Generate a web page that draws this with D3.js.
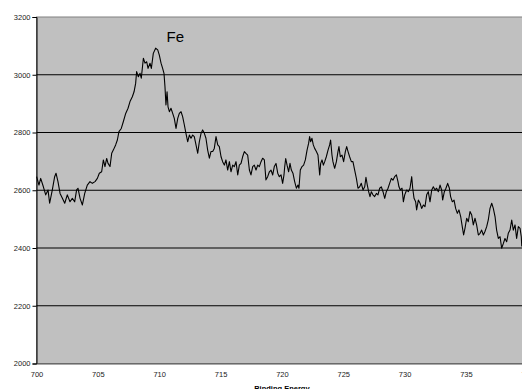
<!DOCTYPE html>
<html>
<head>
<meta charset="utf-8">
<script src="https://cdn.jsdelivr.net/npm/d3@7"></script>
<style>
  html, body { margin: 0; padding: 0; background: #fff; overflow: hidden; }
  svg { display: block; }
  text { font-family: "Liberation Sans", Arial, sans-serif; }
</style>
</head>
<body>
<svg id="chart" width="522" height="389"></svg>
<script>
// ---- data ----
const energy = [
  700.01,700.20,700.34,700.56,700.75,700.94,701.07,701.29,701.48,701.59,701.75,701.92,702.11,702.30,702.51,702.73,702.92,703.11,703.27,703.38,
  703.55,703.74,703.93,704.14,704.36,704.55,704.77,704.96,705.12,705.31,705.45,705.58,705.72,705.83,705.99,706.13,706.26,706.45,706.59,706.72,
  706.91,707.08,707.27,707.46,707.62,707.81,707.95,708.08,708.16,708.30,708.44,708.54,708.71,708.84,708.98,709.09,709.25,709.36,709.52,709.71,
  709.88,710.01,710.15,710.28,710.39,710.47,710.55,710.64,710.72,710.83,710.96,711.10,711.23,711.37,711.51,711.64,711.78,711.91,712.05,712.18,
  712.32,712.46,712.59,712.73,712.86,713.00,713.14,713.27,713.41,713.54,713.68,713.81,713.95,714.09,714.22,714.36,714.49,714.63,714.77,714.90,
  715.04,715.17,715.31,715.44,715.58,715.72,715.85,715.99,716.12,716.26,716.40,716.53,716.67,716.80,716.94,717.07,717.21,717.35,717.48,717.62,
  717.75,717.89,718.03,718.16,718.30,718.43,718.57,718.70,718.84,718.98,719.11,719.25,719.38,719.52,719.66,719.79,719.93,720.06,720.17,
  720.23,720.31,720.42,720.55,720.66,720.77,720.90,721.04,721.18,721.31,721.39,721.50,721.64,721.77,721.91,722.05,722.18,722.26,722.34,722.45,
  722.56,722.67,722.81,722.94,723.08,723.16,723.27,723.38,723.49,723.62,723.76,723.89,723.97,724.08,724.16,724.30,724.44,724.57,724.65,724.76,
  724.90,725.03,725.17,725.28,725.39,725.52,725.66,725.79,725.93,726.07,726.20,726.34,726.47,726.61,726.75,726.85,726.96,727.07,727.18,727.29,
  727.42,727.56,727.70,727.83,727.97,728.10,728.24,728.38,728.51,728.65,728.78,728.92,729.05,729.19,729.33,729.46,729.54,729.65,729.79,729.90,
  730.01,730.11,730.17,730.30,730.44,730.58,730.66,730.77,730.90,730.98,731.12,731.26,731.39,731.53,731.66,731.80,731.93,732.07,732.21,732.34,
  732.48,732.61,732.75,732.89,733.02,733.10,733.24,733.37,733.51,733.65,733.75,733.89,734.03,734.16,734.30,734.43,734.57,734.70,734.81,734.92,
  735.06,735.19,735.33,735.47,735.60,735.74,735.87,736.01,736.15,736.28,736.42,736.55,736.69,736.82,736.96,737.10,737.23,737.37,737.50,737.64,
  737.78,737.91,738.05,738.18,738.32,738.45,738.59,738.73,738.86,739.00,739.13,739.27,739.41,739.51,739.55
];
const counts = [
  2647,2618,2641,2612,2584,2601,2555,2601,2647,2659,2630,2589,2572,2555,2584,2560,2572,2560,2601,2607,
  2572,2549,2589,2618,2630,2624,2630,2641,2659,2664,2705,2682,2710,2693,2682,2728,2739,2757,2774,2803,
  2814,2838,2866,2884,2907,2924,2941,2970,3011,2993,3005,2988,3057,3040,3045,3022,3040,3022,3074,3092,
  3086,3068,3040,3022,3005,2959,2895,2941,2889,2872,2884,2866,2849,2814,2849,2866,2872,2855,2826,2797,
  2768,2791,2780,2791,2786,2757,2728,2768,2797,2809,2797,2780,2739,2711,2734,2734,2745,2786,2757,2751,
  2716,2699,2687,2705,2670,2699,2664,2687,2682,2699,2653,2687,2693,2716,2734,2728,2722,2670,2653,2682,
  2687,2670,2687,2682,2699,2711,2705,2636,2647,2664,2670,2653,2682,2693,2659,2647,2653,2624,2653,
  2682,2710,2687,2664,2693,2670,2659,2630,2607,2618,2607,2670,2682,2687,2705,2739,2763,2786,2768,2780,
  2757,2745,2734,2722,2653,2693,2705,2687,2699,2716,2739,2757,2774,2722,2699,2676,2699,2734,2751,2716,
  2722,2699,2734,2751,2734,2716,2699,2699,2670,2641,2607,2612,2624,2601,2612,2645,2618,2595,2578,2595,
  2584,2578,2589,2584,2607,2612,2595,2572,2595,2607,2624,2641,2635,2647,2653,2630,2612,2601,2607,2560,
  2584,2595,2601,2595,2607,2647,2607,2572,2560,2532,2566,2555,2537,2549,2543,2584,2595,2560,2601,2612,
  2601,2607,2595,2618,2601,2566,2595,2607,2624,2607,2578,2560,2566,2537,2520,2532,2509,2474,2445,2468,
  2503,2491,2526,2514,2480,2503,2480,2445,2451,2462,2445,2457,2474,2497,2537,2555,2537,2509,2462,2433,
  2439,2399,2416,2433,2422,2451,2462,2497,2462,2480,2433,2474,2468,2439,2405
];
const xTicks = [700, 705, 710, 715, 720, 725, 730, 735, 740];
const yTicks = [2000, 2200, 2400, 2600, 2800, 3000, 3200];
const xTitle = "Binding Energy";
const peakLabel = "Fe";

// ---- drawing ----
const svg = d3.select("#chart");
const pLeft = 36.5, pRight = 527.3, pTop = 17, pBottom = 363.5;

const x = d3.scaleLinear().domain([700, 740]).range([pLeft, pRight]);
const y = d3.scaleLinear().domain([2000, 3200]).range([pBottom, pTop]);

// plot area
svg.append("rect")
  .attr("x", pLeft).attr("y", pTop)
  .attr("width", pRight - pLeft).attr("height", pBottom - pTop)
  .attr("fill", "#c0c0c0")
  .attr("stroke", "#808080").attr("stroke-width", 1);

// gridlines
svg.append("g").selectAll("line")
  .data(yTicks.filter(d => d > 2000 && d < 3200))
  .join("line")
  .attr("x1", pLeft).attr("x2", pRight)
  .attr("y1", d => y(d)).attr("y2", d => y(d))
  .attr("stroke", "#000").attr("stroke-width", 1);

// y axis
const yAxis = svg.append("g")
  .attr("transform", `translate(${pLeft},0)`)
  .call(d3.axisLeft(y).tickValues(yTicks).tickSize(4).tickPadding(2).tickFormat(d3.format("d")));
yAxis.select(".domain").attr("stroke", "#000");
yAxis.selectAll(".tick line").attr("stroke", "#000");
yAxis.selectAll("text").attr("font-size", 7.5).attr("fill", "#222")
  .attr("font-family", "'Liberation Sans', Arial, sans-serif");

// x axis
const xAxis = svg.append("g")
  .attr("transform", `translate(0,${pBottom})`)
  .call(d3.axisBottom(x).tickValues(xTicks).tickSize(0).tickPadding(8).tickFormat(d3.format("d")));
xAxis.select(".domain").attr("stroke", "#555");
xAxis.selectAll("text").attr("font-size", 7.5).attr("fill", "#222")
  .attr("font-family", "'Liberation Sans', Arial, sans-serif");

// series line
const pts = energy.map((e, i) => [e, counts[i]]);
svg.append("path")
  .datum(pts)
  .attr("fill", "none")
  .attr("stroke", "#000")
  .attr("stroke-width", 1.1)
  .attr("stroke-linejoin", "round")
  .attr("d", d3.line().x(d => x(d[0])).y(d => y(d[1])));

// peak label
svg.append("text")
  .attr("x", x(710.6)).attr("y", y(3115))
  .attr("font-size", 15).attr("fill", "#000")
  .text(peakLabel);

// axis title
svg.append("text")
  .attr("x", (pLeft + pRight) / 2).attr("y", 391)
  .attr("text-anchor", "middle")
  .attr("font-size", 7.5).attr("font-weight", "bold").attr("fill", "#000")
  .text(xTitle);
</script>
</body>
</html>
